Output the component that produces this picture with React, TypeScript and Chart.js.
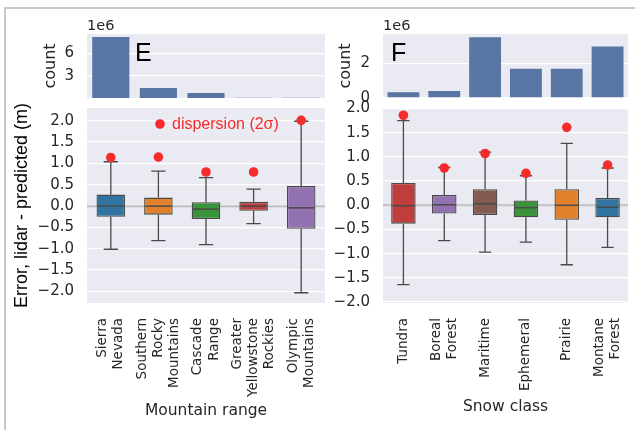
import React, { useEffect, useRef } from "react";
import { Chart, registerables } from "chart.js";
Chart.register(...registerables);

// ---------------- data ----------------
const mountainNames = ["Sierra Nevada", "Southern Rocky Mountains", "Cascade Range", "Greater Yellowstone Rockies", "Olympic Mountains"];
const mountainTickLines = [["Sierra", "Nevada"], ["Southern", "Rocky", "Mountains"], ["Cascade", "Range"], ["Greater", "Yellowstone", "Rockies"], ["Olympic", "Mountains"]];
const mountainCounts = [8.19e6, 1.35e6, 0.68e6, 0.05e6, 0.02e6];
const mountainQ1 = [-0.25, -0.2, -0.3, -0.11, -0.53];
const mountainQ3 = [0.27, 0.2, 0.09, 0.1, 0.47];
const mountainMedian = [0.0, 0.0, -0.07, 0.0, -0.04];
const mountainLow = [-1.01, -0.81, -0.9, -0.41, -2.03];
const mountainHigh = [1.04, 0.82, 0.67, 0.4, 1.99];
const mountainDispersion = [1.14, 1.15, 0.8, 0.8, 2.01];
const mountainColors = ["#3274a1", "#e1812c", "#3a923a", "#c03d3e", "#9372b2"];

const snowNames = ["Tundra", "Boreal Forest", "Maritime", "Ephemeral", "Prairie", "Montane Forest"];
const snowTickLines = [["Tundra"], ["Boreal", "Forest"], ["Maritime"], ["Ephemeral"], ["Prairie"], ["Montane", "Forest"]];
const snowCounts = [0.34e6, 0.4e6, 3.53e6, 1.7e6, 1.7e6, 2.99e6];
const snowQ1 = [-0.38, -0.17, -0.2, -0.25, -0.3, -0.25];
const snowQ3 = [0.46, 0.21, 0.33, 0.1, 0.33, 0.15];
const snowMedian = [-0.01, 0.01, 0.03, -0.05, 0.0, -0.04];
const snowLow = [-1.64, -0.73, -0.97, -0.76, -1.23, -0.87];
const snowHigh = [1.75, 0.78, 1.1, 0.61, 1.28, 0.77];
const snowDispersion = [1.86, 0.77, 1.07, 0.66, 1.61, 0.83];
const snowColors = ["#c03d3e", "#9372b2", "#845b53", "#3a923a", "#e1812c", "#3274a1"];

const errorTicks = [-2, -1.5, -1, -0.5, 0, 0.5, 1, 1.5, 2];
const mountainCountTicks = [3e6, 6e6];
const snowCountTicks = [0, 2e6];

// ---------------- style ----------------
const BG = "#eaeaf2";
const TXT = "#262626";
const RED = "#f52c2c";
const BAR = "#5975a4";
const LINE = "#4a4a4a";
const DV = "DejaVu Sans";
const AR = "Liberation Sans";

const fmtErr = (v: number) => {
  const s = Number(v).toFixed(1);
  return s.replace("-", "\u2212");
};

type Panel = {
  left: number; top: number; width: number; height: number;
  areaLeft: number; areaRight: number; areaTop: number; areaBottom: number;
};

function bgPlugin() {
  return {
    id: "bgFill",
    beforeDraw(chart: any) {
      const { ctx, chartArea: a } = chart;
      ctx.save();
      ctx.fillStyle = BG;
      ctx.fillRect(a.left, a.top, a.right - a.left, a.bottom - a.top);
      ctx.restore();
    },
  };
}

function yScale(p: Panel, min: number, max: number, ticks: number[], cb: (v: number) => string) {
  return {
    min, max,
    afterBuildTicks: (s: any) => { s.ticks = ticks.map((v) => ({ value: v })); },
    afterFit: (s: any) => { s.width = p.areaLeft - p.left; },
    grid: { color: "#ffffff", lineWidth: 1.3, drawTicks: false },
    border: { display: false },
    ticks: { padding: 13, color: TXT, font: { family: DV, size: 15 }, callback: (v: any) => cb(Number(v)) },
  };
}

function layoutPad(p: Panel) {
  return {
    left: 0,
    right: p.left + p.width - p.areaRight,
    top: p.areaTop - p.top,
    bottom: p.top + p.height - p.areaBottom,
  };
}

function histConfig(p: Panel, names: string[], counts: number[], max: number, ticks: number[], letter: string, letterX: number, countX: number) {
  const extras = {
    id: "histExtras",
    afterDraw(chart: any) {
      const { ctx, chartArea: a } = chart;
      ctx.save();
      ctx.fillStyle = TXT;
      ctx.font = `14.5px "${DV}"`;
      ctx.textAlign = "left";
      ctx.textBaseline = "alphabetic";
      ctx.fillText("1e6", a.left, 30 - p.top);
      ctx.save();
      ctx.translate(countX - p.left, (a.top + a.bottom) / 2);
      ctx.rotate(-Math.PI / 2);
      ctx.textAlign = "center";
      ctx.font = `16px "${DV}"`;
      ctx.fillText("count", 0, 0);
      ctx.restore();
      ctx.fillStyle = "#000";
      ctx.font = `25px "${AR}"`;
      ctx.textAlign = "left";
      ctx.fillText(letter, letterX - p.left, 61 - p.top);
      ctx.restore();
    },
  };
  return {
    type: "bar",
    data: {
      labels: names,
      datasets: [{ data: counts, backgroundColor: BAR, borderWidth: 0, barPercentage: 0.78, categoryPercentage: 1 }],
    },
    options: {
      responsive: false, animation: false, devicePixelRatio: 1, events: [],
      layout: { padding: layoutPad(p) },
      plugins: { legend: { display: false }, tooltip: { enabled: false } },
      scales: {
        x: { display: false, offset: true },
        y: yScale(p, 0, max, ticks, (v) => String(Math.round(v / 1e6))),
      },
    },
    plugins: [bgPlugin(), extras],
  };
}

type BoxOpts = {
  p: Panel; names: string[]; tickLines: string[][];
  q1: number[]; q3: number[]; med: number[]; low: number[]; high: number[]; disp: number[]; colors: string[];
  min: number; max: number; title: string; titleBaseline: number;
  withYTitle: boolean; withLegend: boolean;
};

function boxConfig(o: BoxOpts) {
  const p = o.p;
  const extras = {
    id: "boxExtras",
    beforeDatasetsDraw(chart: any) {
      const { ctx, chartArea: a, scales } = chart;
      const y0 = scales.y.getPixelForValue(0);
      ctx.save();
      ctx.strokeStyle = "rgba(128,128,128,0.45)";
      ctx.lineWidth = 2;
      ctx.beginPath();
      ctx.moveTo(a.left, y0);
      ctx.lineTo(a.right, y0);
      ctx.stroke();
      ctx.restore();
    },
    afterDatasetDraw(chart: any, args: any) {
      if (args.index !== 0) return;
      const { ctx, scales } = chart;
      const meta = chart.getDatasetMeta(0);
      ctx.save();
      ctx.strokeStyle = LINE;
      ctx.lineWidth = 1.3;
      o.names.forEach((_, i) => {
        const el = meta.data[i];
        const x = scales.x.getPixelForValue(i);
        const w = el.width;
        const yq1 = scales.y.getPixelForValue(o.q1[i]);
        const yq3 = scales.y.getPixelForValue(o.q3[i]);
        const yl = scales.y.getPixelForValue(o.low[i]);
        const yh = scales.y.getPixelForValue(o.high[i]);
        const ym = scales.y.getPixelForValue(o.med[i]);
        ctx.beginPath();
        ctx.moveTo(x, yq3); ctx.lineTo(x, yh);
        ctx.moveTo(x, yq1); ctx.lineTo(x, yl);
        ctx.moveTo(x - w / 4, yh); ctx.lineTo(x + w / 4, yh);
        ctx.moveTo(x - w / 4, yl); ctx.lineTo(x + w / 4, yl);
        ctx.stroke();
        ctx.beginPath();
        ctx.lineWidth = 1.5;
        ctx.moveTo(x - w / 2 + 1, ym); ctx.lineTo(x + w / 2 - 1, ym);
        ctx.stroke();
        ctx.lineWidth = 1.3;
      });
      ctx.restore();
    },
    afterDraw(chart: any) {
      const { ctx, chartArea: a, scales } = chart;
      ctx.save();
      ctx.fillStyle = TXT;
      const fs = 13.5, lh = 16.2;
      ctx.font = `${fs}px "${DV}"`;
      o.tickLines.forEach((lines, i) => {
        const x = scales.x.getPixelForValue(i);
        const n = lines.length;
        lines.forEach((ln, j) => {
          ctx.save();
          ctx.translate(x + (j - (n - 1) / 2) * lh, a.bottom + 15);
          ctx.rotate(-Math.PI / 2);
          ctx.textAlign = "right";
          ctx.textBaseline = "middle";
          ctx.fillText(ln, 0, 0);
          ctx.restore();
        });
      });
      ctx.font = `15.5px "${DV}"`;
      ctx.textAlign = "center";
      ctx.textBaseline = "alphabetic";
      ctx.fillText(o.title, (a.left + a.right) / 2, o.titleBaseline - p.top);
      if (o.withYTitle) {
        ctx.save();
        ctx.fillStyle = "#000";
        ctx.font = `18px "${AR}"`;
        ctx.translate(27 - p.left, (a.top + a.bottom) / 2);
        ctx.rotate(-Math.PI / 2);
        ctx.textAlign = "center";
        ctx.textBaseline = "alphabetic";
        ctx.fillText("Error, lidar - predicted (m)", 0, 0);
        ctx.restore();
      }
      if (o.withLegend) {
        ctx.fillStyle = RED;
        ctx.beginPath();
        ctx.arc(160 - p.left, 124 - p.top, 4.8, 0, Math.PI * 2);
        ctx.fill();
        ctx.font = `16px "${AR}"`;
        ctx.textAlign = "left";
        ctx.textBaseline = "middle";
        ctx.fillText("dispersion (2\u03c3)", 172 - p.left, 125 - p.top);
      }
      ctx.restore();
    },
  };
  return {
    type: "bar",
    data: {
      labels: o.names,
      datasets: [
        {
          type: "bar",
          data: o.q1.map((v, i) => [v, o.q3[i]]),
          backgroundColor: o.colors,
          borderColor: LINE,
          borderWidth: 1.3,
          borderSkipped: false,
          barPercentage: 0.6,
          categoryPercentage: 1,
          order: 2,
        },
        {
          type: "line",
          data: o.disp,
          showLine: false,
          pointRadius: 4.8,
          pointHoverRadius: 4.8,
          pointBackgroundColor: RED,
          pointBorderWidth: 0,
          borderColor: RED,
          order: 1,
        },
      ],
    },
    options: {
      responsive: false, animation: false, devicePixelRatio: 1, events: [],
      layout: { padding: layoutPad(p) },
      plugins: { legend: { display: false }, tooltip: { enabled: false } },
      scales: {
        x: { display: false, offset: true },
        y: yScale(p, o.min, o.max, errorTicks, fmtErr),
      },
    },
    plugins: [bgPlugin(), extras],
  };
}

function ChartCanvas({ panel, config }: { panel: Panel; config: any }) {
  const ref = useRef<HTMLCanvasElement | null>(null);
  useEffect(() => {
    if (!ref.current) return;
    const chart = new Chart(ref.current, config);
    return () => chart.destroy();
  }, []);
  return (
    <canvas
      ref={ref}
      width={panel.width}
      height={panel.height}
      style={{ position: "absolute", left: panel.left, top: panel.top, width: panel.width, height: panel.height }}
    />
  );
}

// canvases overlap (transparent); layout padding >= tick padding + half label height
const pEtop: Panel = { left: 10, top: 0, width: 320, height: 128, areaLeft: 87, areaRight: 325, areaTop: 34, areaBottom: 98 };
const pFtop: Panel = { left: 330, top: 0, width: 305, height: 128, areaLeft: 383, areaRight: 628, areaTop: 34, areaBottom: 98 };
const pEbox: Panel = { left: 10, top: 76, width: 320, height: 354, areaLeft: 87, areaRight: 325, areaTop: 108, areaBottom: 303 };
const pFbox: Panel = { left: 330, top: 76, width: 305, height: 354, areaLeft: 383, areaRight: 628, areaTop: 108, areaBottom: 303 };

export default function App() {
  const eTop = histConfig(pEtop, mountainNames, mountainCounts, 8.6e6, mountainCountTicks, "E", 135, 55);
  const fTop = histConfig(pFtop, snowNames, snowCounts, 3.72e6, snowCountTicks, "F", 391, 350);
  const eBox = boxConfig({
    p: pEbox, names: mountainNames, tickLines: mountainTickLines,
    q1: mountainQ1, q3: mountainQ3, med: mountainMedian, low: mountainLow, high: mountainHigh,
    disp: mountainDispersion, colors: mountainColors, min: -2.27, max: 2.3,
    title: "Mountain range", titleBaseline: 415, withYTitle: true, withLegend: true,
  });
  const fBox = boxConfig({
    p: pFbox, names: snowNames, tickLines: snowTickLines,
    q1: snowQ1, q3: snowQ3, med: snowMedian, low: snowLow, high: snowHigh,
    disp: snowDispersion, colors: snowColors, min: -2.02, max: 2.01,
    title: "Snow class", titleBaseline: 411, withYTitle: false, withLegend: false,
  });
  return (
    <div style={{ position: "absolute", left: 0, top: 0, width: 635, height: 430, background: "#fff", overflow: "hidden" }}>
      <div style={{ position: "absolute", left: 4, top: 7, width: 640, height: 430, borderLeft: "2px solid #c8c8c8", borderTop: "2px solid #c8c8c8" }} />
      <ChartCanvas panel={pEbox} config={eBox} />
      <ChartCanvas panel={pFbox} config={fBox} />
      <ChartCanvas panel={pEtop} config={eTop} />
      <ChartCanvas panel={pFtop} config={fTop} />
    </div>
  );
}
